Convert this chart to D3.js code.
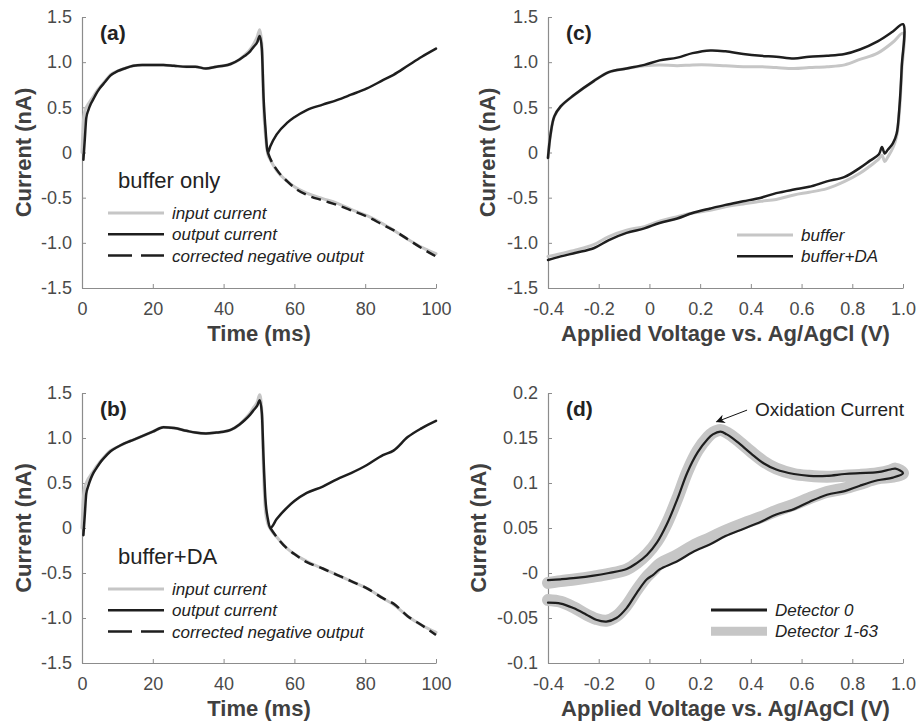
<!DOCTYPE html>
<html>
<head>
<meta charset="utf-8">
<script src="https://cdn.jsdelivr.net/npm/d3@7"></script>
<style>
  body { margin: 0; background: #fff; }
  svg text { font-family: "Liberation Sans", Arial, Helvetica, sans-serif; }
</style>
</head>
<body>
<div id="chart"></div>
<script>
// Colours --------------------------------------------------------------
const grayLine = "#c6c6c6"
const darkLine = "#1e1e1e"
const axisColor = "#8c8c8c"
const tickText = "#4a4a4a"
const titleText = "#404040"

// Data: panels (a) and (b), time traces --------------------------------
const timeGrid = [0, 0.4, 0.8, 1.2, 1.8, 2.5, 3.2, 4, 5, 6.5, 8, 10, 12, 14.5, 17, 20, 23, 26, 29.5, 32, 35, 38, 40, 42,
    44.5, 46, 47.5, 48.5, 49.5, 50.2, 50.8, 51.3, 51.8, 52.5, 53.2, 55, 58, 60, 63.5, 68, 72, 76, 80.5, 85, 88, 92, 96, 100];

const aInput = [0.00, 0.35, 0.46, 0.50, 0.54, 0.58, 0.62, 0.67, 0.72, 0.79, 0.86, 0.90,
    0.93, 0.96, 0.97, 0.97, 0.97, 0.96, 0.95, 0.95, 0.93, 0.95, 0.96, 0.98,
    1.03, 1.08, 1.14, 1.20, 1.28, 1.36, 1.20, 0.50, 0.20,
    -0.02, -0.08, -0.20, -0.32, -0.38, -0.45, -0.51, -0.56, -0.63, -0.70, -0.79, -0.86, -0.96, -1.05, -1.12];
const aOutput = [null, -0.08, 0.15, 0.38, 0.47, 0.54, 0.59, 0.65, 0.71, 0.78, 0.85, 0.90,
    0.93, 0.96, 0.97, 0.97, 0.97, 0.96, 0.95, 0.95, 0.93, 0.95, 0.96, 0.98,
    1.03, 1.07, 1.12, 1.17, 1.22, 1.29, 1.15, 0.60, 0.28,
    0.00, 0.07, 0.20, 0.33, 0.39, 0.47, 0.53, 0.58, 0.64, 0.71, 0.80, 0.86, 0.96, 1.06, 1.15];
const aCorrTime = [52.5, 53.2, 55, 58, 60, 63.5, 68, 72, 76, 80.5, 85, 88, 92, 96, 100];
const aCorrected = [0.00, -0.07, -0.19, -0.32, -0.39, -0.47, -0.53, -0.58, -0.64, -0.71, -0.80, -0.86, -0.96, -1.06, -1.15];

const bInput = [0.00, 0.35, 0.46, 0.50, 0.55, 0.59, 0.63, 0.68, 0.73, 0.80, 0.86, 0.90,
    0.94, 0.98, 1.02, 1.07, 1.12, 1.11, 1.08, 1.06, 1.05, 1.06, 1.07, 1.09,
    1.15, 1.21, 1.28, 1.34, 1.40, 1.48, 1.30, 0.60, 0.20,
    0.05, -0.01, -0.10, -0.23, -0.29, -0.37, -0.45, -0.52, -0.59, -0.67, -0.78, -0.85, -0.98, -1.08, -1.16];
const bOutput = [null, -0.08, 0.15, 0.38, 0.47, 0.55, 0.61, 0.66, 0.72, 0.79, 0.85, 0.90,
    0.94, 0.98, 1.02, 1.07, 1.12, 1.11, 1.08, 1.06, 1.05, 1.06, 1.07, 1.09,
    1.15, 1.20, 1.26, 1.31, 1.36, 1.42, 1.28, 0.76, 0.33,
    0.10, 0.00, 0.10, 0.23, 0.30, 0.39, 0.46, 0.54, 0.61, 0.70, 0.81, 0.86, 1.01, 1.11, 1.19];
const bCorrTime = [53.2, 55, 58, 60, 63.5, 68, 72, 76, 80.5, 85, 88, 92, 96, 100];
const bCorrected = [0.00, -0.10, -0.23, -0.29, -0.38, -0.45, -0.52, -0.59, -0.67, -0.78, -0.84, -0.98, -1.08, -1.19];

// Data: panel (c), cyclic voltammograms --------------------------------
const cVolt = [-0.4, -0.39, -0.375, -0.35, -0.3, -0.22, -0.16, -0.09, -0.02, 0.04, 0.11, 0.17, 0.24, 0.3, 0.37, 0.44,
    0.5, 0.57, 0.63, 0.7, 0.77, 0.83, 0.9, 0.96,
    1.0, 0.995, 0.985, 0.975, 0.96, 0.94, 0.928, 0.917, 0.905, 0.87, 0.83, 0.77, 0.7, 0.63, 0.57, 0.5,
    0.44, 0.37, 0.3, 0.24, 0.17, 0.11, 0.04, -0.02, -0.09, -0.16, -0.22, -0.29, -0.35, -0.4];
const cBuffer = [-0.06, 0.20, 0.40, 0.51, 0.63, 0.79, 0.89, 0.93, 0.96, 0.97, 0.96, 0.97, 0.97, 0.96, 0.95, 0.95,
    0.94, 0.93, 0.94, 0.95, 0.97, 1.03, 1.10, 1.22,
    1.32, 0.90, 0.42, 0.18, 0.05, -0.05, -0.10, -0.03, -0.07, -0.15, -0.23, -0.32, -0.40, -0.44, -0.47, -0.52,
    -0.54, -0.57, -0.60, -0.64, -0.67, -0.71, -0.76, -0.82, -0.86, -0.93, -1.02, -1.08, -1.12, -1.15];
const cBufferDA = [-0.06, 0.20, 0.40, 0.51, 0.63, 0.79, 0.89, 0.93, 0.97, 1.02, 1.05, 1.10, 1.13, 1.12, 1.09, 1.07,
    1.06, 1.04, 1.06, 1.07, 1.09, 1.14, 1.23, 1.34,
    1.42, 0.95, 0.47, 0.21, 0.10, 0.03, -0.01, 0.06, -0.02, -0.09, -0.17, -0.27, -0.32, -0.38, -0.41, -0.45,
    -0.50, -0.54, -0.58, -0.62, -0.67, -0.73, -0.78, -0.84, -0.89, -0.97, -1.06, -1.11, -1.15, -1.19];

// Data: panel (d), background-subtracted voltammograms ------------------
const dVolt = [-0.4, -0.35, -0.29, -0.22, -0.16, -0.09, -0.05, -0.01, 0.03, 0.07, 0.11, 0.15, 0.19, 0.23, 0.25,
    0.28, 0.305, 0.345, 0.4, 0.45, 0.5, 0.57, 0.63, 0.7, 0.77, 0.83, 0.9, 0.95, 0.97, 1.0,
    0.96, 0.9, 0.83, 0.77, 0.7, 0.63, 0.57, 0.5, 0.44, 0.37, 0.3, 0.24, 0.17, 0.11, 0.04, 0.015,
    -0.01, -0.05, -0.09, -0.13, -0.17, -0.21, -0.25, -0.3, -0.35, -0.4];
const dDetector0 = [-0.008, -0.007, -0.0055, -0.003, 0.000, 0.0044, 0.011, 0.020, 0.034, 0.055, 0.082, 0.112, 0.134, 0.149, 0.154,
    0.157, 0.154, 0.146, 0.133, 0.122, 0.115, 0.110, 0.108, 0.108, 0.110, 0.111, 0.112, 0.115, 0.116, 0.111,
    0.106, 0.103, 0.097, 0.091, 0.087, 0.079, 0.071, 0.065, 0.057, 0.049, 0.041, 0.032, 0.023, 0.013, 0.004, -0.002,
    -0.007, -0.022, -0.039, -0.050, -0.054, -0.052, -0.046, -0.039, -0.034, -0.033];
const dDetectors = [-0.011, -0.009, -0.007, -0.004, -0.001, 0.004, 0.011, 0.021, 0.035, 0.056, 0.083, 0.113, 0.136, 0.151, 0.156,
    0.159, 0.156, 0.148, 0.135, 0.124, 0.116, 0.110, 0.108, 0.107, 0.108, 0.109, 0.111, 0.114, 0.116, 0.111,
    0.107, 0.105, 0.099, 0.094, 0.090, 0.083, 0.076, 0.069, 0.062, 0.055, 0.047, 0.039, 0.030, 0.020, 0.010, 0.003,
    -0.004, -0.019, -0.036, -0.048, -0.053, -0.051, -0.046, -0.038, -0.032, -0.030];

// Tick labels -----------------------------------------------------------
const timeTicks = [0, 20, 40, 60, 80, 100];
const currentTicks = [-1.5, -1.0, -0.5, 0, 0.5, 1.0, 1.5];
const currentLabels = ["-1.5", "-1.0", "-0.5", "0", "0.5", "1.0", "1.5"];
const voltTicks = [-0.4, -0.2, 0, 0.2, 0.4, 0.6, 0.8, 1.0];
const voltLabels = ["-0.4", "-0.2", "0", "0.2", "0.4", "0.6", "0.8", "1.0"];
const smallTicks = [-0.1, -0.05, 0, 0.05, 0.1, 0.15, 0.2];
const smallLabels = ["-0.1", "-0.05", "-0", "0.05", "0.1", "0.15", "0.2"];

// Page -----------------------------------------------------------------
var svg = d3.select("#chart")
    .append("svg")
    .attr("width", 921)
    .attr("height", 726);

// Build one panel: axes, titles, curves. Returns the scales for the extras
function panel(opt) {
    var x = d3.scaleLinear().domain(opt.xDomain).range([opt.left, opt.right]);
    var y = d3.scaleLinear().domain(opt.yDomain).range([opt.bottom, opt.top]);

    var xAxis = svg.append("g")
        .attr("transform", "translate(0," + opt.bottom + ")")
        .call(d3.axisBottom(x).tickValues(opt.xTicks)
            .tickFormat(function (d, i) { return opt.xLabels[i]; })
            .tickSizeInner(-4).tickSizeOuter(0).tickPadding(14));
    var yAxis = svg.append("g")
        .attr("transform", "translate(" + opt.left + ",0)")
        .call(d3.axisLeft(y).tickValues(opt.yTicks)
            .tickFormat(function (d, i) { return opt.yLabels[i]; })
            .tickSizeInner(-4).tickSizeOuter(0).tickPadding(10));
    [xAxis, yAxis].forEach(function (g) {
        g.select(".domain").attr("stroke", axisColor).attr("stroke-width", 1.2);
        g.selectAll(".tick line").attr("stroke", axisColor);
        g.selectAll(".tick text").attr("fill", tickText).style("font-size", "18px");
    });

    // axis titles
    svg.append("text")
        .attr("x", (opt.left + opt.right) / 2)
        .attr("y", opt.bottom + 53)
        .attr("text-anchor", "middle")
        .attr("fill", titleText)
        .style("font-size", "22px").style("font-weight", "bold")
        .text(opt.xTitle);
    svg.append("text")
        .attr("transform", "translate(" + (opt.left - opt.yTitleGap) + "," + (opt.top + opt.bottom) / 2 + ") rotate(-90)")
        .attr("text-anchor", "middle")
        .attr("dy", "0.36em")
        .attr("fill", titleText)
        .style("font-size", "22px").style("font-weight", "bold")
        .text("Current (nA)");

    // panel letter
    svg.append("text")
        .attr("x", opt.left + 18)
        .attr("y", opt.top + 23)
        .attr("fill", "#222")
        .style("font-size", "21px").style("font-weight", "bold")
        .text(opt.letter);

    // curves
    opt.series.forEach(function (s) {
        var pts = s.x.map(function (v, i) { return [v, s.y[i]]; });
        var line = d3.line()
            .defined(function (d) { return d[1] !== null; })
            .x(function (d) { return x(d[0]); })
            .y(function (d) { return y(d[1]); })
            .curve(s.curve);
        svg.append("path")
            .datum(pts)
            .attr("d", line)
            .attr("fill", "none")
            .attr("stroke", s.color)
            .attr("stroke-width", s.width)
            .attr("stroke-dasharray", s.dash || null)
            .attr("stroke-linejoin", "round")
            .attr("stroke-linecap", s.dash ? "butt" : "round");
    });

    // legend
    opt.legend.forEach(function (s, i) {
        var ly = opt.legendY + i * 21.3;
        svg.append("line")
            .attr("x1", opt.legendX).attr("x2", opt.legendX + 56)
            .attr("y1", ly).attr("y2", ly)
            .attr("stroke", s.color)
            .attr("stroke-width", s.legendWidth || s.width)
            .attr("stroke-dasharray", s.dash ? "24,9" : null);
        svg.append("text")
            .attr("x", opt.legendX + 64)
            .attr("y", ly + 6)
            .attr("fill", "#222")
            .style("font-size", "17px").style("font-style", "italic")
            .text(s.name);
    });
    return { x: x, y: y };
}

function timePanel(top, bottom, letter, input, output, corrTime, corrected, note) {
    var series = [
        { name: "input current", x: timeGrid, y: input, color: grayLine, width: 3, curve: d3.curveMonotoneX },
        { name: "output current", x: timeGrid, y: output, color: darkLine, width: 2.5, curve: d3.curveMonotoneX },
        { name: "corrected negative output", x: corrTime, y: corrected, color: darkLine, width: 2.5, dash: "10,6", curve: d3.curveMonotoneX }
    ];
    panel({
        left: 82, right: 436, top: top, bottom: bottom,
        xDomain: [0, 100], yDomain: [-1.5, 1.5],
        xTicks: timeTicks, xLabels: timeTicks.map(String),
        yTicks: currentTicks, yLabels: currentLabels,
        xTitle: "Time (ms)", yTitleGap: 59, letter: letter,
        series: series, legend: series, legendX: 108, legendY: top + 196
    });
    svg.append("text")
        .attr("x", 118).attr("y", top + 171)
        .attr("fill", "#222")
        .style("font-size", "22px")
        .text(note);
}

timePanel(17, 288, "(a)", aInput, aOutput, aCorrTime, aCorrected, "buffer only");
timePanel(393, 663, "(b)", bInput, bOutput, bCorrTime, bCorrected, "buffer+DA");

// Panel (c)
var cSeries = [
    { name: "buffer", x: cVolt, y: cBuffer, color: grayLine, width: 3, curve: d3.curveCatmullRom.alpha(0.5) },
    { name: "buffer+DA", x: cVolt, y: cBufferDA, color: darkLine, width: 2.5, curve: d3.curveCatmullRom.alpha(0.5) }
];
panel({
    left: 548, right: 903, top: 17, bottom: 288,
    xDomain: [-0.4, 1.0], yDomain: [-1.5, 1.5],
    xTicks: voltTicks, xLabels: voltLabels,
    yTicks: currentTicks, yLabels: currentLabels,
    xTitle: "Applied Voltage vs. Ag/AgCl (V)", yTitleGap: 61, letter: "(c)",
    series: cSeries, legend: cSeries, legendX: 737, legendY: 235
});

// Panel (d)
var dGray = { name: "Detector 1-63", x: dVolt, y: dDetectors, color: grayLine, width: 12, legendWidth: 9, curve: d3.curveCatmullRom.alpha(0.5) };
var dBlack = { name: "Detector 0", x: dVolt, y: dDetector0, color: darkLine, width: 2.2, legendWidth: 3, curve: d3.curveCatmullRom.alpha(0.5) };
var dScales = panel({
    left: 548, right: 903, top: 393, bottom: 663,
    xDomain: [-0.4, 1.0], yDomain: [-0.1, 0.2],
    xTicks: voltTicks, xLabels: voltLabels,
    yTicks: smallTicks, yLabels: smallLabels,
    xTitle: "Applied Voltage vs. Ag/AgCl (V)", yTitleGap: 70, letter: "(d)",
    series: [dGray, dBlack], legend: [dBlack, dGray], legendX: 711, legendY: 610
});

// Oxidation peak annotation, placed in data coordinates
var tip = [0.265, 0.168], tail = [0.385, 0.181];
svg.append("defs").append("marker")
    .attr("id", "head")
    .attr("viewBox", "0 0 10 10")
    .attr("refX", 9).attr("refY", 5)
    .attr("markerWidth", 12).attr("markerHeight", 9)
    .attr("markerUnits", "userSpaceOnUse")
    .attr("orient", "auto")
    .append("path")
    .attr("d", "M0,0 L10,5 L0,10 L3,5 Z")
    .attr("fill", "#111");
svg.append("line")
    .attr("x1", dScales.x(tail[0])).attr("y1", dScales.y(tail[1]))
    .attr("x2", dScales.x(tip[0])).attr("y2", dScales.y(tip[1]))
    .attr("stroke", "#111").attr("stroke-width", 1)
    .attr("marker-end", "url(#head)");
svg.append("text")
    .attr("x", dScales.x(tail[0]) + 8)
    .attr("y", dScales.y(tail[1]) + 6)
    .attr("fill", "#222")
    .style("font-size", "19px")
    .text("Oxidation Current");
</script>
</body>
</html>
